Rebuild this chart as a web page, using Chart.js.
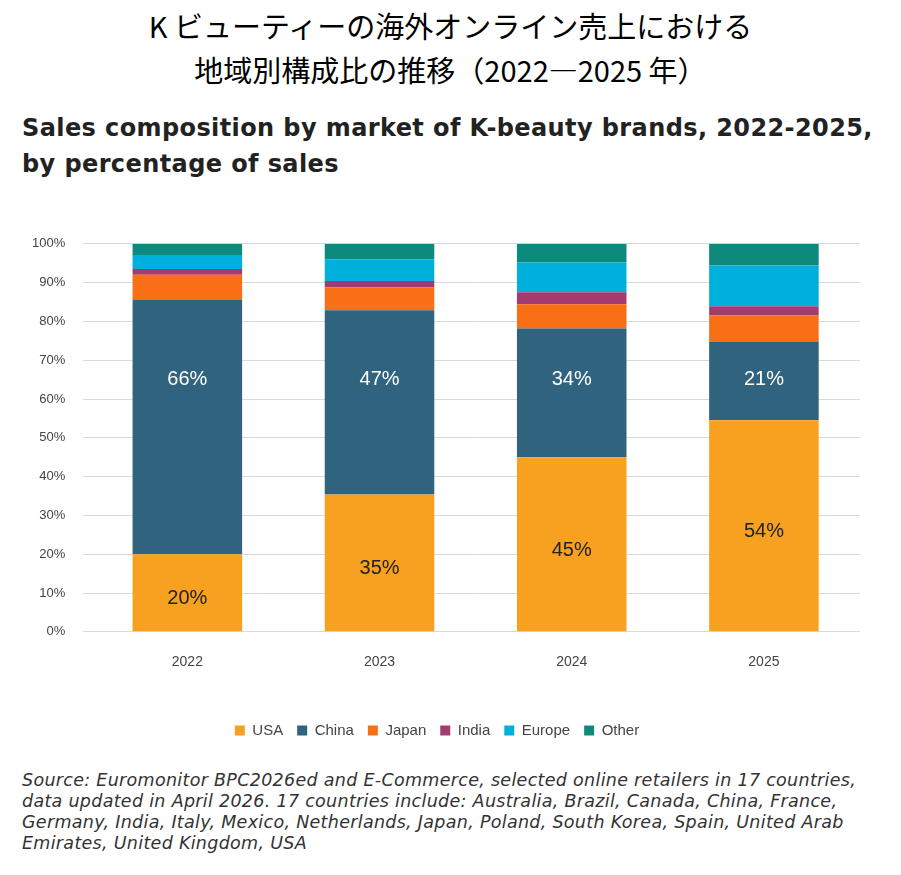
<!DOCTYPE html>
<html>
<head>
<meta charset="utf-8">
<script src="https://cdn.jsdelivr.net/npm/chart.js@4"></script>
<style>
  body { margin: 0; background: #fff; width: 901px; height: 875px; position: relative; font-family: "Noto Sans CJK JP", "Noto Sans", sans-serif; }
  .jp { position: absolute; left: 0; width: 901px; text-align: center; font-size: 29px; color: #000; }
  .sub { position: absolute; left: 22px; top: 110px; font-family: "DejaVu Sans", sans-serif; font-weight: bold; font-size: 24px; letter-spacing: 0.4px; line-height: 36px; color: #222; white-space: nowrap; }
  .wrap { position: absolute; left: 14px; top: 218px; width: 846px; height: 530px; }
  .src { position: absolute; left: 22px; top: 770px; font-family: "DejaVu Sans", sans-serif; font-style: italic; font-size: 17.5px; letter-spacing: 0.3px; line-height: 21px; color: #333; white-space: nowrap; }
</style>
</head>
<body>
<div class="jp" style="top:4px">K ビューティーの海外オンライン売上における</div>
<div class="jp" style="top:48px">地域別構成比の推移（2022―2025 年）</div>
<div class="sub">Sales composition by market of K-beauty brands, 2022-2025,<br>by percentage of sales</div>
<div class="wrap"><canvas id="myChart"></canvas></div>
<div class="src">Source: Euromonitor BPC2026ed and E-Commerce, selected online retailers in 17 countries,<br>data updated in April 2026. 17 countries include: Australia, Brazil, Canada, China, France,<br>Germany, India, Italy, Mexico, Netherlands, Japan, Poland, South Korea, Spain, United Arab<br>Emirates, United Kingdom, USA</div>
<script>
const years = ["2022", "2023", "2024", "2025"];
const usa = [20, 35.4, 45, 54.5];
const china = [65.5, 47.5, 33.2, 20.3];
const japan = [6.5, 5.9, 6.2, 6.7];
const india = [1.5, 1.6, 3.1, 2.4];
const europe = [3.6, 5.6, 7.7, 10.5];
const other = [2.9, 4.0, 4.8, 5.6];
const usaLabels = ["20%", "35%", "45%", "54%"];
const chinaLabels = ["66%", "47%", "34%", "21%"];

const ctx = document.getElementById("myChart").getContext("2d");

const segLabels = {
  id: "segLabels",
  afterDatasetsDraw(chart) {
    const c = chart.ctx;
    const y = chart.scales.y;
    c.save();
    c.font = "20px 'Liberation Sans', Arial, sans-serif";
    c.textAlign = "center";
    c.textBaseline = "middle";
    chart.getDatasetMeta(0).data.forEach((bar, i) => {
      c.fillStyle = "#222";
      c.fillText(usaLabels[i], bar.x, (bar.y + bar.base) / 2 + 6);
    });
    chart.getDatasetMeta(1).data.forEach((bar, i) => {
      c.fillStyle = "#fff";
      c.fillText(chinaLabels[i], bar.x, y.getPixelForValue(65));
    });
    c.restore();
  },
};

const mk = (label, data, color) => ({ label, data, backgroundColor: color, barPercentage: 0.57, categoryPercentage: 1 });

new Chart(ctx, {
  type: "bar",
  data: {
    labels: years,
    datasets: [
      mk("USA", usa, "#F8A01F"),
      mk("China", china, "#30637E"),
      mk("Japan", japan, "#F86F15"),
      mk("India", india, "#A23B70"),
      mk("Europe", europe, "#00B0DC"),
      mk("Other", other, "#0E8A7C"),
    ],
  },
  options: {
    responsive: true,
    maintainAspectRatio: false,
    animation: false,
    layout: { padding: { top: 0, right: 0 } },
    scales: {
      x: {
        stacked: true,
        grid: { display: false },
        border: { color: "#d9d9d9" },
        ticks: { color: "#444", font: { size: 14, family: "Liberation Sans" }, padding: 14 },
        title: { display: true, text: " ", font: { size: 12 }, padding: { top: 4, bottom: 6 } },
      },
      y: {
        stacked: true,
        min: 0,
        max: 100,
        ticks: { stepSize: 10, callback: (v) => v + "%", color: "#444", font: { size: 13, family: "Liberation Sans" }, padding: 18 },
        grid: { color: "#d9d9d9" },
        border: { display: false },
      },
    },
    plugins: {
      legend: {
        position: "bottom",
        labels: { boxWidth: 10, boxHeight: 10, color: "#444", font: { size: 15, family: "Liberation Sans" }, padding: 14 },
      },
      tooltip: { enabled: false },
    },
  },
  plugins: [segLabels],
});
</script>
</body>
</html>
